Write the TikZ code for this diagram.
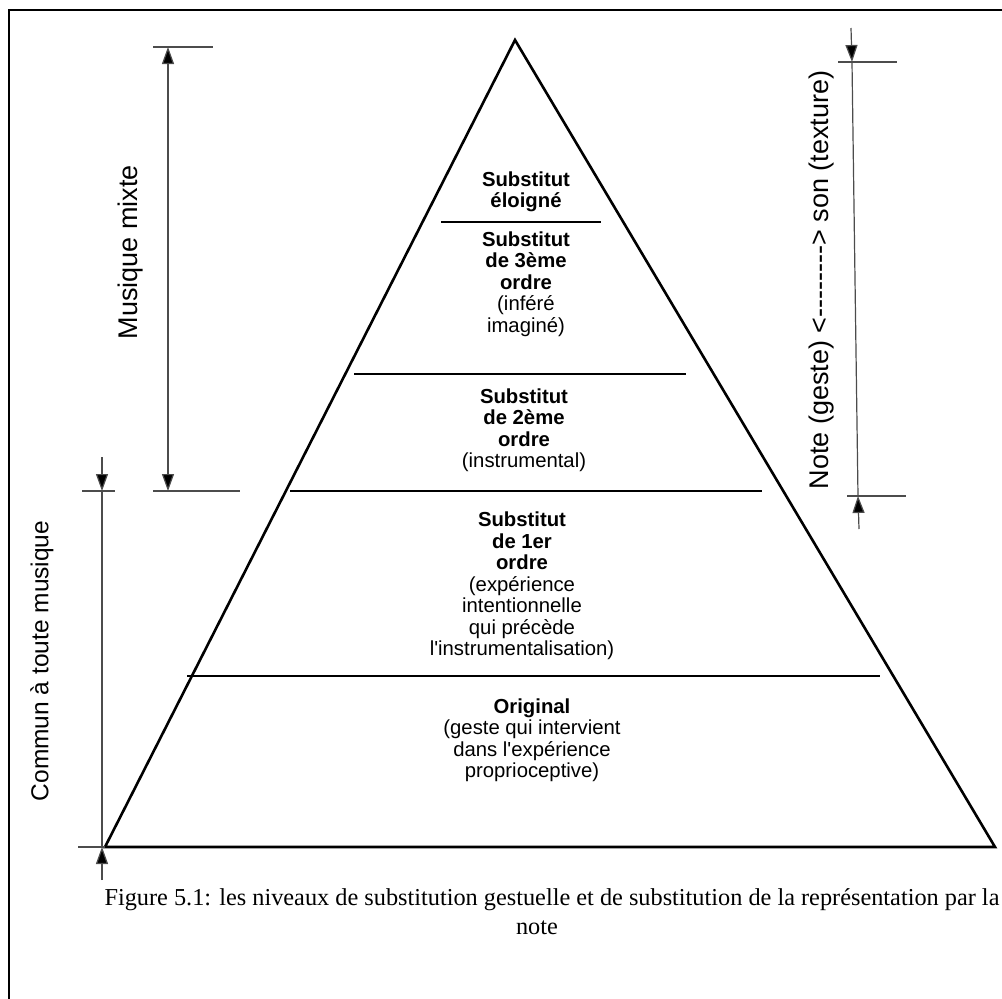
\documentclass[tikz,border=0pt]{standalone}
\usepackage{fontspec}
\setmainfont{Liberation Serif}
\newfontfamily\lblfont{Liberation Sans}
\usetikzlibrary{arrows.meta}
\begin{document}
\begin{tikzpicture}[x=1pt,y=-1pt,
    pyr/.style={line width=2.6pt, line join=miter},
    sepline/.style={line width=2.8pt},
    dim/.style={line width=1.2pt, black!70},
    tip/.style={-{Triangle[length=17pt,width=12pt,fill=black]}},
    lbl/.style={font=\lblfont\fontsize{20.3}{21.5}\selectfont, align=center, inner sep=0pt},
    side/.style={font=\lblfont\fontsize{24}{26}\selectfont, rotate=90, inner sep=0pt}]
    \useasboundingbox (0,0) rectangle (1002,999);

    % Frame
    \draw[line width=2pt] (9,999) -- (9,10) -- (1002,10);

    % Pyramid
    \coordinate (apex) at (515,40);
    \coordinate (bl) at (105,847);
    \coordinate (br) at (995,847);
    \draw[pyr] (apex) -- (bl) -- (br) -- cycle;

    % Level separators
    \foreach \y/\xa/\xb [count=\i] in {222/441/601, 374/354/686, 491/290/762, 676/187/880} {
        \coordinate (sepL\i) at (\xa,\y);
        \coordinate (sepR\i) at (\xb,\y);
        \draw[sepline] (sepL\i) -- (sepR\i);
    }

    % Level labels
    \node[lbl] (lev1) at (526,192) {\textbf{Substitut}\\\textbf{éloigné}};
    \node[lbl] (lev2) at (526,284) {\textbf{Substitut}\\\textbf{de 3ème}\\\textbf{ordre}\\(inféré\\imaginé)};
    \node[lbl] (lev3) at (524,430) {\textbf{Substitut}\\\textbf{de 2ème}\\\textbf{ordre}\\(instrumental)};
    \node[lbl] (lev4) at (522,586) {\textbf{Substitut}\\\textbf{de 1er}\\\textbf{ordre}\\(expérience\\intentionnelle\\qui précède\\l'instrumentalisation)};
    \node[lbl] (lev5) at (532,740) {\textbf{Original}\\(geste qui intervient\\dans l'expérience\\proprioceptive)};

    % Musique mixte
    \coordinate (mmTop) at (168,47);
    \coordinate (mmBot) at (168,491);
    \draw[dim] (153,47) -- (213,47);
    \draw[dim] (153,491) -- (240,491);
    \draw[dim, {Triangle[length=17pt,width=12pt,fill=black]}-{Triangle[length=17pt,width=12pt,fill=black]}] (mmTop) -- (mmBot);
    \node[side, font=\lblfont\fontsize{27}{29}\selectfont] (mixte) at (131,252) {Musique mixte};

    % Commun a toute musique
    \coordinate (cmStart) at (102,457);
    \coordinate (cmTop) at (102,491);
    \coordinate (cmBot) at (102,847);
    \coordinate (cmEnd) at (102,880);
    \draw[dim] (82,491) -- (115,491);
    \draw[dim] (78,847) -- (bl);
    \draw[dim, tip] (cmStart) -- (cmTop);
    \draw[dim] (cmTop) -- (cmBot);
    \draw[dim, tip] (cmEnd) -- (cmBot);
    \node[side, font=\lblfont\fontsize{24.5}{26}\selectfont] (commun) at (42,661) {Commun à toute musique};

    % Note / son
    \coordinate (nsStart) at (851,28);
    \coordinate (nsTop) at (852,62);
    \coordinate (nsBot) at (858,496);
    \coordinate (nsEnd) at (859,529);
    \draw[dim] (838,62) -- (897,62);
    \draw[dim] (847,496) -- (906,496);
    \draw[dim, tip] (nsStart) -- (nsTop);
    \draw[dim] (nsTop) -- (nsBot);
    \draw[dim, tip] (nsEnd) -- (nsBot);
    \node[side, font=\lblfont\fontsize{27}{29}\selectfont] (noteson) at (822,280) {Note (geste) <--------> son (texture)};

    % Caption
    \node[font=\fontsize{24.3}{26}\selectfont, inner sep=0pt] (cap1) at (552,900) {Figure 5.1: les niveaux de substitution gestuelle et de substitution de la représentation par la};
    \node[font=\fontsize{24.3}{26}\selectfont, inner sep=0pt] (cap2) at (537,928) {note};
\end{tikzpicture}
\end{document}
